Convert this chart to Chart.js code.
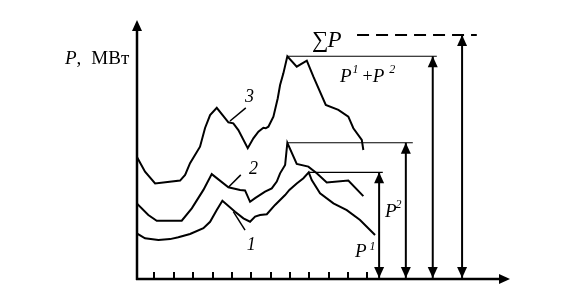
<!DOCTYPE html>
<html>
<head>
<meta charset="utf-8">
<script src="https://cdn.jsdelivr.net/npm/chart.js@4.4.1/dist/chart.umd.min.js"></script>
<style>
  html, body { margin: 0; padding: 0; background: #fff; }
  #wrap { width: 570px; height: 295px; }
</style>
</head>
<body>
<div id="wrap"><canvas id="chart"></canvas></div>
<script>
// hours of the day and load values (arbitrary MW units)
const hours1 = [0.18, 1.03, 2.41, 3.62, 4.47, 5.68, 7.06, 7.75, 8.44, 9.02, 10.33, 11.19, 11.88, 12.40, 12.91, 13.61, 14.46, 15.50, 15.94, 16.70, 17.39, 17.94, 18.25, 19.11, 20.49, 21.87, 23.24, 24.79];
const load1 = [17.6, 15.7, 15.1, 15.4, 16.1, 17.4, 19.6, 22.1, 26.6, 30.2, 26.0, 23.4, 22.1, 24.1, 24.7, 25.0, 28.6, 32.4, 34.4, 36.9, 38.9, 41.2, 38.2, 33.1, 29.2, 26.6, 22.8, 17.0];

const hours2 = [0.18, 1.37, 2.24, 4.82, 5.86, 7.06, 7.92, 9.64, 10.85, 11.36, 11.88, 12.40, 13.43, 14.12, 14.64, 14.98, 15.50, 15.73, 16.70, 17.90, 18.77, 19.80, 22.03, 23.58];
const load2 = [29.2, 24.7, 22.5, 22.5, 27.3, 34.4, 40.5, 35.4, 34.4, 34.2, 29.8, 31.2, 33.7, 35.0, 37.6, 40.8, 44.0, 52.6, 44.4, 43.4, 40.8, 37.3, 38.0, 32.0];

const hours3 = [0.18, 1.03, 2.07, 4.65, 5.17, 5.68, 6.71, 7.23, 7.75, 8.44, 9.64, 10.15, 10.67, 11.64, 12.22, 12.74, 13.25, 13.50, 13.77, 14.29, 14.74, 14.98, 15.32, 15.73, 16.70, 17.74, 18.42, 19.70, 21.00, 22.03, 22.55, 23.42, 23.58];
const load3 = [47.2, 41.4, 36.9, 38.0, 40.2, 44.7, 51.1, 58.3, 63.3, 66.1, 60.5, 60.1, 57.5, 50.5, 54.3, 56.9, 58.4, 58.2, 58.8, 62.7, 69.8, 74.9, 79.4, 86.0, 82.0, 84.3, 78.1, 67.2, 65.3, 62.7, 58.2, 53.7, 49.8];

const tickHours = [2, 4, 6, 8, 10, 12, 14, 16, 18, 20, 22, 24];

// maximum levels: P1, P2, P1+P2, sum P
const levelNames = ["P1", "P2", "P12", "Psum"];
const levelValues = [41.2, 52.6, 86.0, 94.2];
const levelFrom = [17.94, 15.73, 15.73, 22.93];
const levelTo = [25.59, 28.69, 31.17, 35.30];
const arrowHours = [25.21, 27.97, 30.75, 33.78];

// pointer lines from curves to their numbers
const pointerFrom = [[10.15, 26.0], [9.64, 35.4], [9.81, 61.0]];
const pointerTo = [[11.36, 18.9], [10.92, 40.2], [11.44, 66.1]];

const toPts = (xs, ys) => xs.map((x, i) => ({ x: x, y: ys[i] }));

const datasets = [
  { data: toPts(hours1, load1), borderWidth: 2 },
  { data: toPts(hours2, load2), borderWidth: 2 },
  { data: toPts(hours3, load3), borderWidth: 2 }
];

for (let i = 0; i < 3; i++) {
  datasets.push({ data: [{ x: pointerFrom[i][0], y: pointerFrom[i][1] }, { x: pointerTo[i][0], y: pointerTo[i][1] }], borderWidth: 1.5 });
}

levelNames.forEach((n, i) => {
  datasets.push({
    data: [{ x: levelFrom[i], y: levelValues[i] }, { x: levelTo[i], y: levelValues[i] }],
    borderWidth: n === "Psum" ? 2 : 1.2,
    borderDash: n === "Psum" ? [12, 7] : []
  });
  datasets.push({
    data: [{ x: arrowHours[i], y: 0.4 }, { x: arrowHours[i], y: levelValues[i] }],
    borderWidth: 2
  });
});

datasets.forEach(d => {
  d.borderColor = "#000";
  d.pointRadius = 0;
  d.tension = 0;
  d.fill = false;
});

const serif = "'Liberation Serif', 'Times New Roman', serif";

function head(ctx, x, y, dir) {
  // dir: 'up' | 'down' | 'right'
  ctx.beginPath();
  if (dir === "up") {
    ctx.moveTo(x, y); ctx.lineTo(x - 5, y + 11); ctx.lineTo(x + 5, y + 11);
  } else if (dir === "down") {
    ctx.moveTo(x, y); ctx.lineTo(x - 5, y - 11); ctx.lineTo(x + 5, y - 11);
  } else {
    ctx.moveTo(x, y); ctx.lineTo(x - 11, y - 5); ctx.lineTo(x - 11, y + 5);
  }
  ctx.closePath();
  ctx.fill();
}

// draws text pieces one after another: [text, size, italic, dy, extra gap]
function pieces(ctx, x, y, parts) {
  let cx = x;
  parts.forEach(p => {
    ctx.font = (p[2] ? "italic " : "") + p[1] + "px " + serif;
    ctx.fillText(p[0], cx, y + (p[3] || 0));
    cx += ctx.measureText(p[0]).width + (p[4] || 0);
  });
}

const decor = {
  id: "decor",
  afterDatasetsDraw(chart) {
    const ctx = chart.ctx;
    const xs = chart.scales.x;
    const ys = chart.scales.y;
    const a = chart.chartArea;
    const x0 = a.left;
    const y0 = ys.getPixelForValue(0);

    ctx.save();
    ctx.fillStyle = "#000";
    ctx.strokeStyle = "#000";
    ctx.lineWidth = 2.5;

    // axes
    ctx.beginPath();
    ctx.moveTo(x0, y0 + 1);
    ctx.lineTo(x0, a.top + 8);
    ctx.moveTo(x0 - 1, y0);
    ctx.lineTo(a.right - 8, y0);
    ctx.stroke();
    head(ctx, x0, a.top, "up");
    head(ctx, a.right, y0, "right");

    // ticks
    ctx.lineWidth = 2;
    ctx.beginPath();
    tickHours.forEach(h => {
      const px = Math.round(xs.getPixelForValue(h));
      ctx.moveTo(px, y0);
      ctx.lineTo(px, y0 - 7);
    });
    ctx.stroke();

    // arrow heads on the level arrows
    arrowHours.forEach((h, i) => {
      const px = xs.getPixelForValue(h);
      head(ctx, px, ys.getPixelForValue(levelValues[i]), "up");
      head(ctx, px, y0 - 1, "down");
    });

    ctx.textBaseline = "alphabetic";
    const X = h => xs.getPixelForValue(h);
    const Y = v => ys.getPixelForValue(v);

    pieces(ctx, 65, 64, [["P", 19, true, 0, 0], [",", 19, false, 0, 10], ["МВт", 19, false]]);
    pieces(ctx, 312, 47, [["∑", 23, false, 0, -1], ["P", 23, true]]);
    pieces(ctx, 340, 82, [["P", 19, true, 0, 1], ["1", 12, true, -9, 4], ["+", 18, false, 0, 0], ["P", 19, true, 0, 5], ["2", 12, true, -9]]);
    pieces(ctx, 385, 217, [["P", 19, true, 0, -1], ["2", 12, true, -9]]);
    pieces(ctx, 355, 257, [["P", 19, true, 0, 3], ["1", 12, true, -7]]);

    ctx.font = "italic 18px " + serif;
    ctx.fillText("1", X(11.54), Y(11.2));
    ctx.fillText("2", X(11.78), Y(40.5));
    ctx.fillText("3", X(11.36), Y(68.3));
    ctx.restore();
  }
};

new Chart(document.getElementById("chart"), {
  type: "line",
  data: { datasets: datasets },
  options: {
    responsive: true,
    maintainAspectRatio: false,
    animation: false,
    layout: { padding: { left: 137, right: 60, top: 20, bottom: 16 } },
    plugins: { legend: { display: false }, tooltip: { enabled: false } },
    scales: {
      x: { type: "linear", min: 0.2, max: 38.73, display: false },
      y: { type: "linear", min: 0, max: 100, display: false }
    }
  },
  plugins: [decor]
});
</script>
</body>
</html>
